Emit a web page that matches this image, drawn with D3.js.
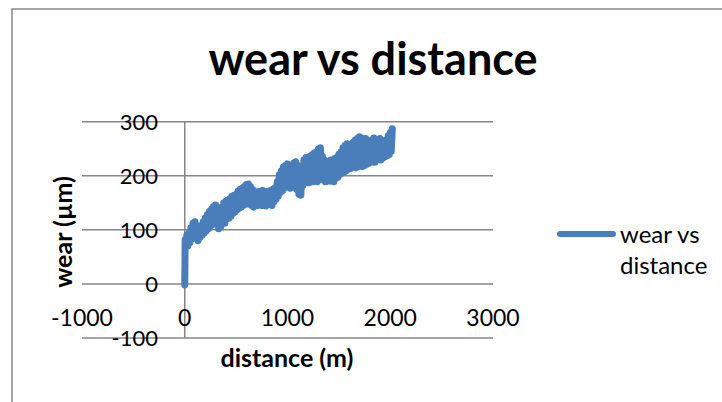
<!DOCTYPE html>
<html>
<head>
<meta charset="utf-8">
<script src="https://cdn.jsdelivr.net/npm/d3@7"></script>
<style>
  body { margin: 0; background: #fff; }
  text { font-family: Lato, 'Open Sans', sans-serif; fill: #000; }
</style>
</head>
<body>
<svg id="chart"></svg>
<script>
const W = 722;
const H = 402;

// data
const distance = [0, 2, 4, 10, 20, 30, 40, 50, 60, 70, 80, 90, 100, 110, 120, 130, 140, 150, 160, 170,
  180, 190, 200, 210, 220, 230, 240, 250, 260, 270, 280, 290, 300, 310, 320, 330, 340, 350, 360, 370,
  380, 390, 400, 410, 420, 430, 440, 450, 460, 470, 480, 490, 500, 510, 520, 530, 540, 550, 560, 570,
  580, 590, 600, 610, 620, 630, 640, 650, 660, 670, 680, 690, 700, 710, 720, 730, 740, 750, 760, 770,
  780, 790, 800, 810, 820, 830, 840, 850, 860, 870, 880, 890, 900, 910, 920, 930, 940, 950, 960, 970,
  980, 990, 1000, 1010, 1020, 1030, 1040, 1050, 1060, 1070, 1080, 1090, 1100, 1110, 1120, 1130, 1140, 1150, 1160, 1170,
  1180, 1190, 1200, 1210, 1220, 1230, 1240, 1250, 1260, 1270, 1280, 1290, 1300, 1310, 1320, 1330, 1340, 1350, 1360, 1370,
  1380, 1390, 1400, 1410, 1420, 1430, 1440, 1450, 1460, 1470, 1480, 1490, 1500, 1510, 1520, 1530, 1540, 1550, 1560, 1570,
  1580, 1590, 1600, 1610, 1620, 1630, 1640, 1650, 1660, 1670, 1680, 1690, 1700, 1710, 1720, 1730, 1740, 1750, 1760, 1770,
  1780, 1790, 1800, 1810, 1820, 1830, 1840, 1850, 1860, 1870, 1880, 1890, 1900, 1910, 1920, 1930, 1940, 1950, 1960, 1970,
  1980, 1990, 2000, 2010, 2020];
const wear = [-2, 40, 82, 68, 90, 70, 94, 76, 104, 83, 112, 92, 115, 86, 104, 80, 98, 86, 108, 90,
  115, 94, 122, 98, 128, 102, 134, 106, 138, 110, 143, 112, 146, 115, 140, 102, 130, 105, 142, 115,
  150, 112, 153, 120, 155, 122, 158, 125, 162, 130, 164, 133, 166, 137, 172, 140, 175, 142, 177, 145,
  180, 147, 184, 152, 185, 147, 180, 145, 175, 142, 171, 147, 169, 145, 171, 149, 168, 145, 173, 147,
  169, 144, 171, 147, 168, 149, 173, 145, 175, 152, 178, 157, 189, 162, 202, 169, 209, 172, 216, 177,
  219, 179, 222, 182, 216, 177, 220, 179, 223, 182, 226, 175, 219, 166, 202, 164, 214, 182, 229, 187,
  234, 189, 230, 187, 236, 192, 239, 189, 242, 192, 244, 189, 249, 197, 252, 195, 236, 192, 229, 189,
  224, 192, 226, 190, 229, 193, 226, 189, 232, 195, 234, 197, 240, 202, 244, 205, 252, 207, 256, 209,
  259, 212, 254, 213, 249, 215, 262, 217, 266, 215, 269, 217, 272, 219, 270, 217, 266, 219, 269, 221,
  264, 223, 254, 225, 266, 227, 270, 225, 259, 229, 266, 231, 269, 229, 254, 233, 262, 235, 266, 237,
  274, 239, 280, 245, 287];

const xTicks = [-1000, 0, 1000, 2000, 3000];
const yTicks = [-100, 0, 100, 200, 300];
const seriesName = ['wear vs', 'distance'];

const blue = '#4a7ebb';
const grid = '#868686';

const svg = d3.select('#chart').attr('width', W).attr('height', H);

svg.append('rect').attr('width', W).attr('height', H).attr('fill', '#fff');

// chart border (runs off the right and bottom)
svg.append('rect')
  .attr('x', 12).attr('y', 9)
  .attr('width', W + 20).attr('height', H + 20)
  .attr('fill', 'none')
  .attr('stroke', grid)
  .attr('stroke-width', 1.5);

const x = d3.scaleLinear().domain([-1000, 3000]).range([82, 493]);
const y = d3.scaleLinear().domain([-100, 300]).range([338, 121.7]);

// horizontal gridlines
svg.append('g')
  .selectAll('line')
  .data(yTicks)
  .enter()
  .append('line')
  .attr('x1', x(-1000)).attr('x2', x(3000))
  .attr('y1', d => y(d)).attr('y2', d => y(d))
  .attr('stroke', grid)
  .attr('stroke-width', 1.5);

// vertical axis at x = 0
svg.append('line')
  .attr('x1', x(0)).attr('x2', x(0))
  .attr('y1', y(300)).attr('y2', y(-100))
  .attr('stroke', grid)
  .attr('stroke-width', 1.5);

// y tick labels
svg.append('g')
  .selectAll('text')
  .data(yTicks)
  .enter()
  .append('text')
  .attr('x', 158)
  .attr('y', d => y(d))
  .attr('dy', '0.36em')
  .attr('text-anchor', 'end')
  .style('font-size', '22px')
  .text(d => d);

// x tick labels
svg.append('g')
  .selectAll('text')
  .data(xTicks)
  .enter()
  .append('text')
  .attr('x', d => x(d))
  .attr('y', 318)
  .attr('dy', '0.36em')
  .attr('text-anchor', 'middle')
  .style('font-size', '23px')
  .text(d => d);

// series
const pts = distance.map((d, i) => [d, wear[i]]);
const line = d3.line().x(d => x(d[0])).y(d => y(d[1]));

svg.append('path')
  .datum(pts)
  .attr('d', line)
  .attr('fill', 'none')
  .attr('stroke', blue)
  .attr('stroke-width', 7)
  .attr('stroke-linejoin', 'round')
  .attr('stroke-linecap', 'round');

// title
svg.append('text')
  .attr('x', 373)
  .attr('y', 75)
  .attr('text-anchor', 'middle')
  .style('font-size', '45px')
  .style('font-weight', 'bold')
  .text('wear vs distance');

// axis titles
svg.append('text')
  .attr('x', 287)
  .attr('y', 367)
  .attr('text-anchor', 'middle')
  .style('font-size', '25px')
  .style('font-weight', 'bold')
  .text('distance (m)');

svg.append('text')
  .attr('transform', 'translate(72,232) rotate(-90)')
  .attr('text-anchor', 'middle')
  .style('font-size', '25px')
  .style('font-weight', 'bold')
  .text('wear (\u00b5m)');

// legend
svg.append('line')
  .attr('x1', 560).attr('x2', 613)
  .attr('y1', 234).attr('y2', 234)
  .attr('stroke', blue)
  .attr('stroke-width', 6)
  .attr('stroke-linecap', 'round');

svg.append('g')
  .selectAll('text')
  .data(seriesName)
  .enter()
  .append('text')
  .attr('x', 620)
  .attr('y', (d, i) => 243 + i * 31)
  .style('font-size', '24px')
  .text(d => d);
</script>
</body>
</html>
